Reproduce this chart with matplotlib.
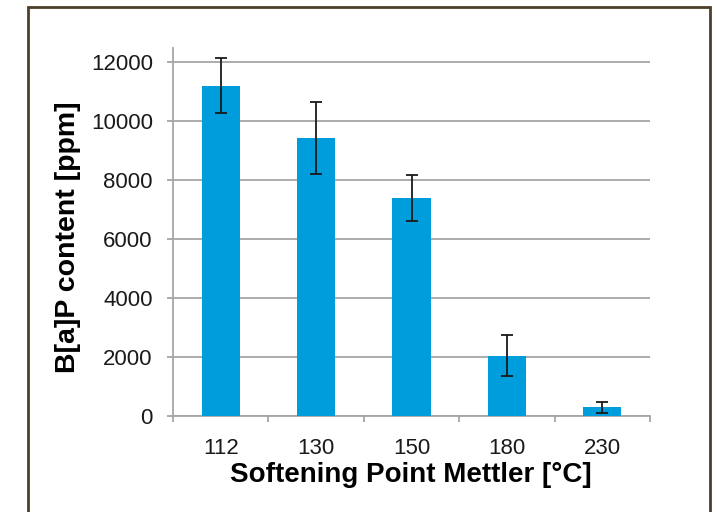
import matplotlib.pyplot as plt
import matplotlib.patches as patches
import numpy as np

plt.rcParams['font.family'] = ['Liberation Sans', 'DejaVu Sans']

categories = ['112', '130', '150', '180', '230']
bap = [11200, 9420, 7390, 2040, 300]
err = [930, 1220, 770, 690, 190]

fig = plt.figure(figsize=(7.17, 5.12), dpi=100)
ax = fig.add_axes([173/717, 1-416/512, 477/717, 368/512])

# outer frame
frame = patches.Rectangle((28/717, -0.05), 682/717, 1.05-7/512, transform=fig.transFigure,
                          fill=False, edgecolor='#4f3f2a', linewidth=2, clip_on=False)
fig.patches.append(frame)

x = np.arange(len(categories))
ax.bar(x, bap, width=0.4, color='#009ddc', zorder=3)
ax.errorbar(x, bap, yerr=err, fmt='none', ecolor='#1a1a1a', elinewidth=1.3,
            capsize=4, capthick=1.3, zorder=4)

ax.set_xlim(-0.5, len(categories)-0.5)
ax.set_ylim(0, 12000*368/354)
ax.set_yticks(np.arange(0, 12001, 2000))
ax.set_xticks(x)
ax.set_xticklabels(categories)
ax.set_xticks(np.arange(-0.5, len(categories), 1), minor=True)

grid_col = '#a6a6a6'
ax.grid(axis='y', color=grid_col, linewidth=1.3, zorder=0)
ax.set_axisbelow(True)
for s in ['top', 'right']:
    ax.spines[s].set_visible(False)
for s in ['left', 'bottom']:
    ax.spines[s].set_color(grid_col)
    ax.spines[s].set_linewidth(1.3)

ax.tick_params(axis='y', length=4.5, width=1.3, color=grid_col, pad=10, labelsize=16, labelcolor='#1a1a1a')
ax.tick_params(axis='x', which='major', length=0, pad=16, labelsize=16, labelcolor='#1a1a1a')
ax.tick_params(axis='x', which='minor', length=4, width=1.3, color=grid_col)

ax.set_ylabel('B[a]P content [ppm]', fontsize=20.5, fontweight='bold', va='center')
ax.yaxis.set_label_coords(-0.22, 0.485)
ax.set_xlabel('Softening Point Mettler [°C]', fontsize=20, fontweight='bold', va='center')
ax.xaxis.set_label_coords(0.499, -0.16)

fig.savefig('out.png', dpi=100)
